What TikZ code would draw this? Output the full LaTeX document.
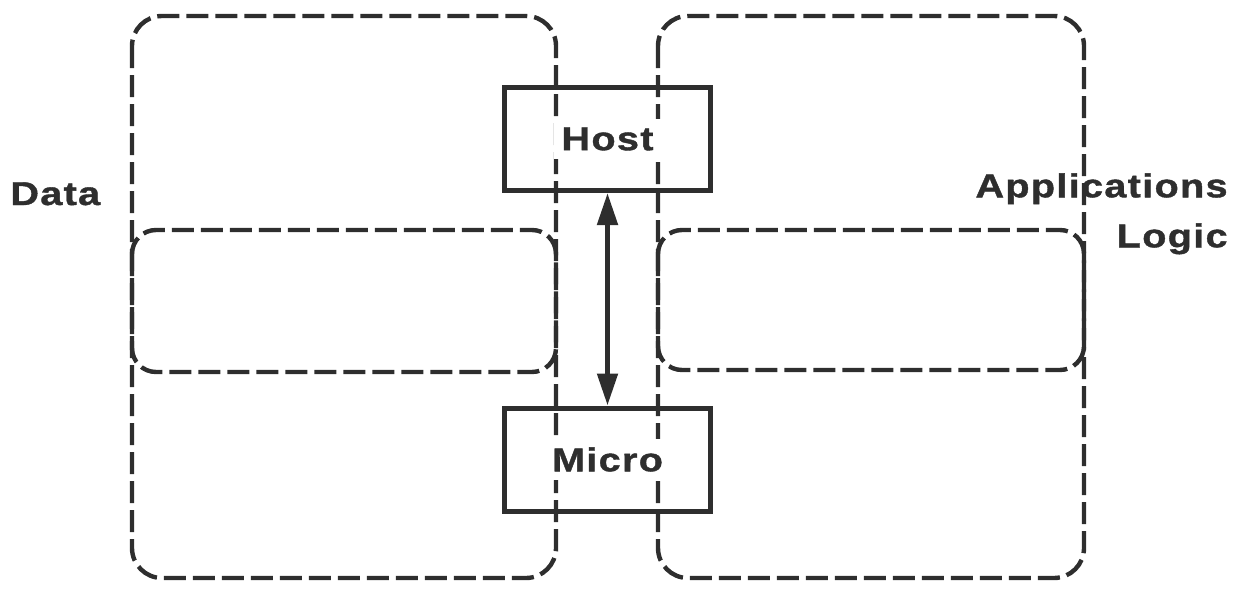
\documentclass[tikz,border=0pt]{standalone}
\usepackage{fontspec}
\newfontfamily\tagfamily[FakeStretch=1.2,LetterSpace=4,FakeBold=1.2]{Liberation Sans}
\newcommand\tagfont{\tagfamily\bfseries\fontsize{16.5}{25}\selectfont}
\usetikzlibrary{positioning,arrows.meta}
\definecolor{ink}{gray}{0.18}

\begin{document}
\begin{tikzpicture}
		[x=0.5pt, y=-0.5pt, ink,
			region/.style={line width=2.2pt, dash pattern=on 11pt off 3.5pt, rounded corners=15pt},
			inner region/.style={region, rounded corners=12pt},
			unit/.style={draw, line width=2.5pt, minimum width=103pt, minimum height=51.5pt, inner sep=0pt},
			title/.style={inner sep=0pt, font=\tagfont},
			head/.tip={Triangle[length=16pt, width=10pt]}]
		\useasboundingbox (0,0) rectangle (1236,589);
		% data side
		\draw[region] (132,16) rectangle (556,578);
		\draw[inner region] (132,230) rectangle (556,372);
		% applications logic side
		\draw[region] (658,16) rectangle (1084,578);
		\draw[inner region] (658,230) rectangle (1084,370);
		\node[unit, label={[title, fill=white, inner sep=4pt]center:Host}] (host) at (607.5,139) {};
		\node[unit, label={[title, fill=white, inner sep=4pt]center:Micro}] (micro) at (607.5,459.5) {};
		\draw[head-head, line width=2.5pt] (host) -- (micro);
		\node[title, anchor=base west] (data) at (10,205) {Data};
		\node[title, anchor=north east, align=right] (apps) at (1228,173) {Applications\\Logic};
	\end{tikzpicture}
\end{document}
